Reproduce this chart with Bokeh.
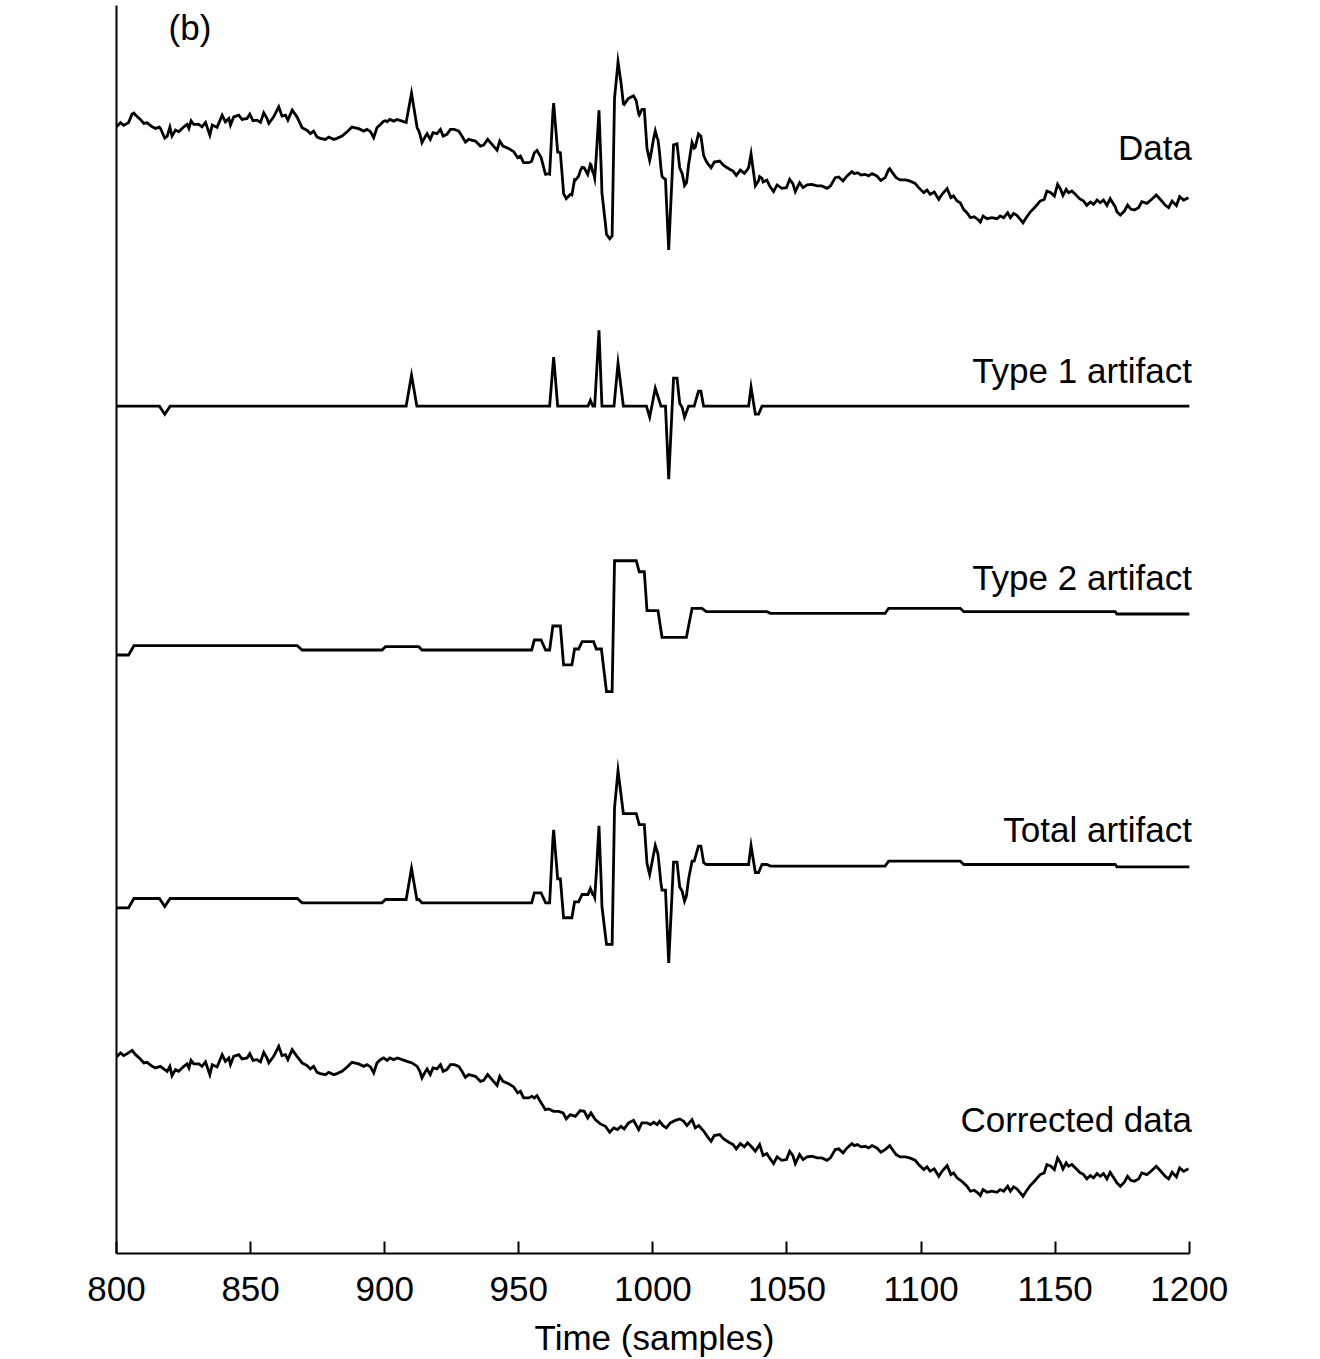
from bokeh.plotting import figure
from bokeh.models import Range1d, FixedTicker, Label
from bokeh.embed import file_html
from bokeh.resources import INLINE

# ---------------- data ----------------
# Corrected data (relative amplitude)
CORR_T = [800, 801.5, 802.7, 804, 805.8, 807.1, 808.9, 810.2, 811.4, 813.3, 814.5, 816.4, 817.6, 818.9, 819.9,
          820.7, 822, 823.2, 825.1, 826.3, 827, 827.8, 828.8, 830.7, 831.9, 833.2, 834.8, 835.7, 837.5, 839.4,
          840.6, 841.9, 842.5, 843.7, 845.6, 846.8, 848.7, 849.7, 850.9, 852.4, 853.7, 854.9, 856.1, 856.8,
          858.6, 860.5, 861.7, 863, 863.9, 865.5, 867.3, 869.2, 871.1, 872.3, 873.5, 874.8, 876, 877.9, 879.1,
          881, 882.2, 884.1, 886, 887.8, 890.3, 892.2, 893.4, 894.7, 895.9, 897.1, 898.4,
          899.6, 900.9, 901.9, 903.4, 904.6, 906.5, 908.3, 910.2, 912.1, 913.1, 913.9, 915.2, 915.8, 917, 918,
          919.5, 920.8, 921.8, 923.2, 924.5, 926, 927.6, 928.8, 930.1, 931.3, 933.8, 935.7, 936.9, 938.4, 940,
          941.9, 942.9, 944.1, 946.2, 948.1, 949.6, 950.6, 951.8, 953.7, 954.9, 955.8, 956.8, 958, 959.9,
          961.1, 963, 964.9, 966.5, 967.7, 969.2, 971.1, 972.9, 974.4, 975.7, 976.9, 978.5, 980.4, 982.3,
          983.9, 985.4, 986.8, 988.1, 989.3, 990.9, 992.8, 994.7, 995.9, 997.8,
          999.1, 1000.3, 1001.6, 1002.5, 1003.8, 1005, 1006.5, 1008.4, 1010, 1011.5, 1012.7, 1014.6, 1015.8,
          1017.1, 1019, 1020.4, 1021.7, 1022.9, 1024.9, 1026.4, 1028.3, 1029.9, 1031.1, 1032.6, 1034.1,
          1035.3, 1036.6, 1038.2, 1039.8, 1041.1, 1042.5, 1043.5, 1045, 1046.3, 1048.1, 1049.8, 1051, 1052.2,
          1053.1, 1054.7, 1056, 1057.5, 1059.3, 1061.2, 1063, 1064.9, 1066.2, 1068, 1069.3, 1070.9, 1072.4,
          1074.2, 1075.1, 1076.3, 1077.6, 1079.2, 1080.4, 1081.7, 1083.5, 1085, 1086.6, 1088.3, 1089.5,
          1090.7, 1092.2, 1094.1, 1095.7, 1097.8, 1099.1,
          1101, 1102.2, 1103.4, 1104.9, 1106.6, 1107.8, 1109.7, 1111.1, 1112.1, 1113.4, 1115.2, 1117.1,
          1118.4, 1119.8, 1121.1, 1122.1, 1123.1, 1124.6, 1126.4, 1128.3, 1129.5, 1130.8, 1132.3, 1133.3,
          1134.5, 1135.7, 1137, 1138, 1139.2, 1140.7, 1142.6, 1144.4, 1145.9, 1146.9, 1148.4, 1149.7, 1150.9,
          1151.9, 1152.9, 1154.1, 1155, 1156.2, 1157.5, 1159.1, 1160.6, 1161.8, 1163.1, 1164.3, 1165.6,
          1166.8, 1168, 1169.3, 1170.5, 1171.8, 1173, 1174.3, 1175.8, 1177, 1178.2, 1179.5, 1181.1, 1182.3,
          1184.2, 1185.7, 1187.7, 1189.4, 1191, 1192.3, 1193.6, 1195.2, 1196.4, 1197.9, 1199.7]
CORR_V = [-1.3, 2.7, 0, 2, 5.3, 1, -3.3, -7.3, -6.7, -10.7, -12.3, -10.7, -13.3, -15.7, -10.7,
          -20, -14, -15.7, -10.7, -8.3, -12.3, -4.7, -8.3, -8.3, -10.7, -6.3, -19, -9, -11.3, 1,
          -5.7, -2.3, -9, -0.7, 1, -3.3, -2.3, 2, -4.7, -4, -6.3, 3.3, -2.3, -7.3,
          -0.7, 9.3, 0, 1, -4, 6, -0.7, -7.3, -10, -13.3, -10.7, -16.7, -18, -19, -16.7,
          -19, -18, -15.7, -11.3, -6.7, -8.3, -10.7, -9, -11.3, -17.3, -7.3, -4,
          -2.3, -4.7, -2.3, -4, -2.3, -4, -5.7, -7.3, -10.7, -15.7, -22.3, -15.7, -13.3, -19, -12.3,
          -13.3, -9, -15.7, -14, -9, -9, -10.7, -15.7, -21.7, -19, -20.7, -25.7, -24.7, -19, -24,
          -29.7, -20.7, -25.7, -28, -31.3, -37.3, -35.7, -42.3, -42.3, -40.7, -42.3, -40, -45.7, -54,
          -53.3, -55.7, -55.7, -57.3, -63.3, -59, -60.7, -55, -55.7, -62.3, -57.3, -64, -68.3, -70.7,
          -76.7, -72.3, -74, -70.7, -73.3, -67.3, -64.7, -74, -67.3, -67.3,
          -69, -66.7, -69, -65.7, -70, -72.3, -67.3, -64.7, -63.3, -65.7, -70, -64, -72.3,
          -70, -75.7, -81.3, -85.7, -80, -79, -83.3, -86.7, -89, -93.3, -88, -91.3,
          -87.3, -90.7, -95.7, -89, -100, -98, -102.3, -108, -101.3, -104.7, -104, -95.7, -100,
          -108, -99, -104, -101.3, -100.7, -102.3, -102.3, -104.7, -102.3, -94, -93.3, -97.3, -92.3,
          -88, -90, -89, -91.3, -90.7, -92.3, -90, -92.3, -96.7, -94, -90, -94.7,
          -99, -101.3, -101.3, -102.3, -104.7, -109,
          -114, -111.3, -115.7, -113.3, -120.7, -115.7, -110, -119, -117.3, -122.3, -125.7, -130.7,
          -135.7, -134.7, -137.3, -140, -134, -136.7, -135.7, -136.7, -134, -135.7, -130.7, -135.7,
          -131.3, -133.3, -137.3, -140.7, -135.7, -130, -124.7, -119, -117.3, -109, -110.7, -114, -102.3,
          -106.7, -113.3, -107.3, -110.7, -109, -112.3, -116.7, -119, -123.3, -120, -122.3, -118,
          -120.7, -118, -123.3, -116.7, -122.3, -127.3, -130.7, -126.7, -120.7, -124.7, -125.7, -123.3, -117.3,
          -119, -115.7, -110.7, -115.7, -120.7, -123.3, -116.7, -121.3, -112.3, -115.7, -113.3]

# Raw data (sample, relative amplitude)
DATA_PTS = [
    (800, -1.3), (801.5, 2.7), (802.7, 0), (804, 2), (804.5, 2.9), (805.8, 11.3), (806.5, 12.3), (807.1, 10.3),
    (808.9, 6), (810.2, 2), (811.4, 2.6), (813.3, -1.4), (814.5, -3), (816, -1.7), (816.4, -3), (817.6, -10.4),
    (818, -12.7), (818.9, -10.8), (819.9, -1.8), (820.7, -10.7), (822, -4.7), (823.2, -6.4), (825.1, -1.4),
    (826.3, 1), (827, -3), (827.8, 4.6), (828.8, 1), (830.7, 1), (831.9, -1.4), (833.2, 3), (834.8, -9.7),
    (835.7, 0.3), (837.5, -2), (839.4, 10.3), (840.6, 3.6), (841.9, 7), (842.5, 0.3), (843.7, 8.6), (845.6, 10.3),
    (846.8, 6), (848.7, 7), (849.7, 11.3), (850.9, 4.6), (852.4, 5.3), (853.7, 3), (854.9, 12.6), (856.1, 7),
    (856.8, 2), (858.6, 8.6), (860.5, 18.6), (861.7, 9.3), (863, 10.3), (863.9, 5.3), (865.5, 15.3), (867.3, 8.6),
    (869.2, -2.3), (871.1, -5), (872.3, -8.3), (873.5, -5.7), (874.8, -11.7), (876, -13), (877.9, -14),
    (879.1, -11.7), (881, -14), (882.2, -13), (884.1, -10.7), (886, -6.3), (887.8, -1.7), (890.3, -3.3),
    (892.2, -5.7), (893.4, -4), (894.7, -6.3), (895.9, -12.3), (897.1, -2.3), (898.4, 1), (899.6, 4.2),
    (900.3, 4.7), (900.9, 3.6), (901.9, 6), (903.4, 4.3), (904.6, 6), (906.5, 4.3), (908, 2.9), (908.3, 7.3),
    (910, 32.2), (910.2, 28.9), (912.1, -2.4), (912.7, -5.4), (913.1, -8.5), (913.9, -17.3), (915.2, -10.7),
    (915.8, -8.3), (917, -14), (918, -7.3), (919.5, -8.3), (920.8, -4), (921.8, -10.7), (923.2, -9), (924.5, -4),
    (926, -4), (927.6, -5.7), (928.8, -10.7), (930.1, -16.7), (931.3, -14), (933.8, -15.7), (935.7, -20.7),
    (936.9, -19.7), (938.4, -14), (940, -19), (941.9, -24.7), (942.9, -15.7), (944.1, -20.7), (946.2, -23),
    (948.1, -26.3), (949.6, -32.3), (950.6, -30.7), (951.8, -37.3), (953.7, -37.3), (954.8, -35.8),
    (955.8, -27.3), (956.8, -25), (958, -30.7), (958.3, -32), (959.9, -48.4), (960, -49), (961.1, -48.3),
    (961.5, -48.8), (962.7, 12.7), (963, 22.3), (964.5, -26.7), (964.9, -26.7), (965.5, -27.3), (966.5, -60.8),
    (966.7, -68.3), (967.7, -73.3), (969.2, -69), (969.8, -69.5), (970.8, -54.4), (971.1, -54.7), (972.3, -50.9),
    (972.9, -45.6), (973.6, -42), (974.4, -42.4), (975.7, -49), (976.7, -38.8), (976.9, -39.3), (977.6, -46.9),
    (977.9, -48.2), (978.3, -52.8), (978.5, -45.6), (978.9, -30.4), (979.9, 15), (980.4, -20.7), (980.8, -48.8),
    (981, -67.5), (982.3, -98.4), (982.7, -108.9), (983.9, -113.4), (984.8, -110.7), (985.4, -17.9),
    (985.7, 27.3), (986.8, 57.6), (987, 63.6), (988.1, 43), (989, 21.7), (989.3, 21), (990.9, 27), (992.8, 29.6),
    (993.8, 24.7), (994.7, 11.3), (994.9, 10.4), (995.9, 16), (996.8, 16), (997.8, -23), (998.8, -35.2),
    (999.1, -31.6), (1000.3, -12.7), (1000.9, -5.5), (1001.6, -12.7), (1001.9, -14.3), (1002.5, -27.8),
    (1003, -42.7), (1003.4, -50.9), (1003.8, -52.3), (1004.7, -54), (1005, -72.9), (1005.9, -124.6),
    (1006.5, -88.9), (1007.7, -19.5), (1008.4, -19), (1009, -18.5), (1010, -42.6), (1010.9, -48), (1011.5, -55.7),
    (1011.8, -60.1), (1012.5, -57.5), (1012.7, -54), (1013.3, -39.4), (1014.6, -17.3), (1015.4, -22.8),
    (1015.8, -21.8), (1017, -8.5), (1017.9, -10.7), (1018.3, -17.9), (1018.9, -30), (1019.9, -36), (1020.4, -38),
    (1021.7, -42.4), (1022.9, -36.7), (1024.9, -35.7), (1026.4, -40), (1028.3, -43.4), (1029.9, -45.7),
    (1031.1, -50), (1032.6, -44.7), (1034.1, -48), (1035.3, -44), (1035.7, -42.1), (1036.6, -28.4),
    (1038.2, -60.4), (1039.4, -55.4), (1039.8, -51.2), (1040.7, -52.9), (1041.1, -56.7), (1042.5, -54.7),
    (1043.5, -60.2), (1043.8, -61.7), (1045, -66.3), (1046.3, -59.6), (1048.1, -63), (1049.8, -62.3), (1051, -54),
    (1052.2, -58.3), (1053.1, -66.3), (1054.7, -57.3), (1056, -62.3), (1057.5, -59.6), (1059.3, -59),
    (1061.2, -60.6), (1063, -60.6), (1064.9, -63), (1066.2, -60.6), (1068, -52.3), (1069.3, -51.6),
    (1070.9, -55.6), (1072.4, -50.6), (1074.2, -46.3), (1075.1, -48.3), (1076.3, -47.3), (1077.6, -49.6),
    (1079.2, -49), (1080.4, -50.6), (1081.7, -48.3), (1083.5, -50.6), (1085, -55), (1086.6, -52.3),
    (1087.9, -44.3), (1088.3, -43.3), (1089.5, -48), (1090.7, -52.3), (1092.2, -54.6), (1094.1, -54.6),
    (1095.7, -55.6), (1097.8, -58), (1099.1, -62.3), (1101, -67.3), (1102.2, -64.6), (1103.4, -69),
    (1104.9, -66.6), (1106.6, -74), (1107.8, -69), (1109.7, -63.3), (1111.1, -72.3), (1112.1, -70.6),
    (1113.4, -75.6), (1114.6, -77.5), (1115.2, -80.6), (1115.9, -84.2), (1117.1, -87.4), (1118.4, -92.4),
    (1119.8, -91.4), (1121.1, -94), (1122.1, -96.7), (1123.1, -90.7), (1124.6, -93.4), (1126.4, -92.4),
    (1128.3, -93.4), (1129.5, -90.7), (1130.8, -92.4), (1132.3, -87.4), (1133.3, -92.4), (1134.5, -88),
    (1135.7, -90), (1137, -94), (1138, -97.4), (1139.2, -92.4), (1140.7, -86.7), (1142.6, -81.4),
    (1144.4, -75.7), (1145.9, -74), (1146.9, -65.7), (1148.4, -67.4), (1149.7, -70.7), (1150.9, -59),
    (1151.9, -63.4), (1152.9, -70), (1154.1, -64), (1155, -67.4), (1156.2, -65.7), (1157.5, -69),
    (1159.1, -73.4), (1160.6, -75.7), (1161.8, -80), (1163.1, -76.7), (1164.3, -79), (1165.6, -74.7),
    (1166.8, -77.4), (1168, -74.7), (1169.3, -80), (1170.5, -73.4), (1171.8, -79), (1172.4, -81.5),
    (1173, -86.3), (1174.3, -89.7), (1175.8, -85.7), (1177, -79.7), (1178.2, -83.7), (1179.5, -84.7),
    (1181.1, -82.3), (1182.3, -76.3), (1184.2, -78), (1185.7, -74.7), (1187.7, -69.7), (1189.4, -74.7),
    (1191, -79.7), (1192.3, -82.3), (1193.6, -75.7), (1195.2, -80.3), (1196.4, -71.3), (1197.9, -74.7),
    (1199.7, -72.3)]

# Type 1 artifact
T1_T = [800, 816, 818, 820, 908, 910, 912, 961.5, 963, 964.5, 975.8, 976.7, 977.6, 978.3, 979.9, 981,
        985.5, 987, 989, 997.6, 998.8, 1000.9, 1003, 1004.7, 1005.9, 1007.7, 1009, 1010, 1010.9, 1011.8,
        1013.3, 1015.4, 1017, 1017.9, 1018.9, 1035.7, 1036.6, 1038.2, 1039.4, 1040.7, 1200]
T1_V = [0, 0, -8, 0, 0, 31, 0, 0, 49, 0, 0, 6, 0, 0, 76, 0,
        0, 43, 0, 0, -11, 18, 0, 0, -73, 28, 28, 3, -1, -11,
        0, 0, 15, 15, 0, 0, 19, -8, -8, 0, 0]

# Type 2 artifact
T2_T = [800, 804.5, 806.5, 867.4, 869.2, 899, 900.3, 912.7, 913.9, 954.8, 955.8, 958.3, 960, 961.5,
        962.7, 965.5, 966.7, 969.8, 970.8, 972.3, 973.6, 977.9, 978.9, 980.8, 982.7, 984.8, 985.7, 993.8,
        994.9, 996.8, 997.8, 1001.9, 1003.4, 1012.5, 1014.6, 1018.3, 1019.9, 1042.5, 1043.8, 1086.6,
        1087.9, 1114.6, 1115.9, 1172.4, 1173, 1200]
T2_V = [0, 0, 9.3, 9.3, 5, 5, 8.3, 8.3, 5, 5, 15, 15, 5, 5,
        29, 29, -10, -10, 6, 6, 13.3, 13.3, 6, 6, -36.7, -36.7, 94.3, 94.3,
        83.3, 83.3, 44.3, 44.3, 17.7, 17.7, 46.7, 46.7, 43.3, 43.3, 41.7, 41.7,
        46.7, 46.7, 43.3, 43.3, 41, 41]

# Total artifact
TOT_T = [800, 804.5, 806.5, 816, 818, 820, 867.4, 869.2, 899, 900.3,
         908, 910, 912, 912.7, 913.9, 954.8, 955.8, 958.3, 960, 961.5,
         962.7, 963, 964.5, 965.5, 966.7, 969.8, 970.8, 972.3, 973.6, 975.8,
         976.7, 977.6, 977.9, 978.3, 978.9, 979.9, 980.8, 981, 982.7, 984.8,
         985.7, 987, 989, 993.8, 994.9, 996.8, 997.8, 998.8, 1000.9, 1001.9,
         1003, 1003.4, 1004.7, 1005.9, 1007.7, 1009, 1010, 1010.9, 1011.8, 1012.5,
         1013.3, 1014.6, 1015.4, 1017, 1017.9, 1018.3, 1018.9, 1019.9, 1035.7, 1036.6,
         1038.2, 1039.4, 1040.7, 1042.5, 1043.8, 1086.6, 1087.9, 1114.6, 1115.9, 1172.4,
         1173, 1200]
TOT_V = [0, 0, 9.3, 9.3, 1.3, 9.3, 9.3, 5, 5, 8.3,
         8.3, 39.3, 8.3, 8.3, 5, 5, 15, 15, 5, 5,
         68, 78, 29, 29, -10, -10, 6, 6, 13.3, 13.3,
         19.3, 13.3, 13.3, 10.4, 34.5, 82, 20, 1.5, -36.7, -36.7,
         100, 137.3, 94.3, 94.3, 83.3, 83.3, 44.3, 33.3, 62.3, 53.7,
         24.8, 17.7, 17.7, -55.3, 45.7, 45.7, 20.7, 16.7, 6.7, 11.8,
         28.7, 46.7, 46.7, 61.7, 61.7, 55.7, 45.4, 43.3, 43.3, 62.3,
         35.3, 35.3, 43.3, 43.3, 41.7, 41.7, 46.7, 46.7, 43.3, 43.3,
         41, 41]

XTICKS = [800, 850, 900, 950, 1000, 1050, 1100, 1150, 1200]
LABELS = ["Data", "Type 1 artifact", "Type 2 artifact", "Total artifact", "Corrected data"]
PANEL = "(b)"

DATA_T = [t for t, _ in DATA_PTS]
DATA_V = [v for _, v in DATA_PTS]

# ---------------- layout / style ----------------
BASE = {"data": 1129, "t1": 848, "t2": 599, "tot": 346, "corr": 198}
LABEL_Y = [1107, 884, 677, 424, 134]
FONT = "Liberation Sans"

p = figure(width=1252, height=1359, x_range=Range1d(800, 1201.2), y_range=Range1d(0, 1249),
           output_backend="svg", toolbar_location=None,
           min_border_left=116, min_border_right=60, min_border_top=5, min_border_bottom=105)
p.outline_line_color = None
p.xgrid.visible = False
p.ygrid.visible = False
p.background_fill_color = "white"
p.border_fill_color = "white"

lw = 2.8
def trace(ts, vs, base):
    p.line(ts, [v + base for v in vs], line_color="black", line_width=lw, line_join="miter")

trace(DATA_T, DATA_V, BASE["data"])
trace(T1_T, T1_V, BASE["t1"])
trace(T2_T, T2_V, BASE["t2"])
trace(TOT_T, TOT_V, BASE["tot"])
trace(CORR_T, CORR_V, BASE["corr"])

xa = p.xaxis[0]
xa.ticker = FixedTicker(ticks=XTICKS)
xa.bounds = (800, 1200)
xa.major_tick_in = 12
xa.major_tick_out = 0
xa.minor_tick_line_color = None
xa.axis_line_width = 2
xa.major_tick_line_width = 2
xa.major_label_text_font = FONT
xa.major_label_text_font_size = "35px"
xa.major_label_text_color = "black"
xa.major_label_standoff = 23
xa.axis_label = "Time (samples)"
xa.axis_label_text_font = FONT
xa.axis_label_text_font_size = "35px"
xa.axis_label_text_font_style = "normal"
xa.axis_label_text_color = "black"
xa.axis_label_standoff = 14

ya = p.yaxis[0]
ya.ticker = FixedTicker(ticks=[])
ya.major_tick_line_color = None
ya.minor_tick_line_color = None
ya.axis_line_width = 2

for txt, y in zip(LABELS, LABEL_Y):
    p.add_layout(Label(x=1201, y=y, text=txt, text_align="right", text_baseline="alphabetic",
                       text_font=FONT, text_font_size="35px", text_color="black"))
p.add_layout(Label(x=819.4, y=1227, text=PANEL, text_align="left", text_baseline="alphabetic",
                   text_font=FONT, text_font_size="35px", text_color="black"))

open("out.html", "w").write(file_html(p, INLINE))
